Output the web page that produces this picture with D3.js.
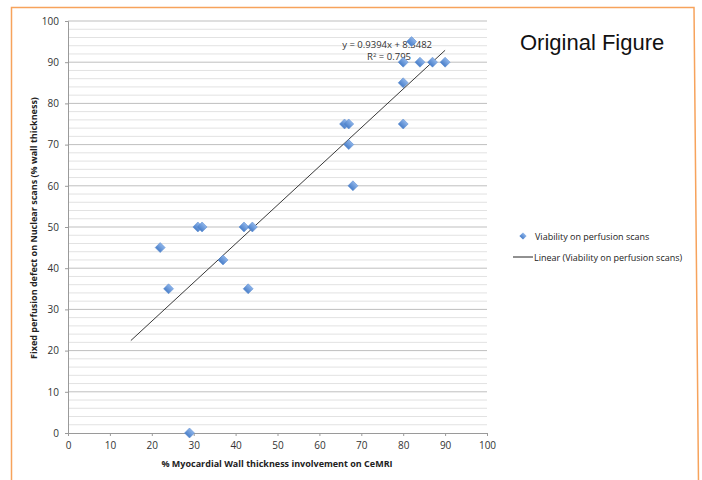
<!DOCTYPE html>
<html>
<head>
<meta charset="utf-8">
<script src="https://cdn.jsdelivr.net/npm/d3@7"></script>
<style>
  body { margin: 0; background: #fff; }
  text { font-family: "Open Sans", "Liberation Sans", sans-serif; }
</style>
</head>
<body>
<div id="chart"></div>
<script>
// values
var xVals = [22, 24, 29, 31, 32, 37, 42, 44, 43, 66, 67, 67, 68, 80, 80, 80, 82, 84, 87, 90];
var yVals = [45, 35, 0, 50, 50, 42, 50, 50, 35, 75, 75, 70, 60, 75, 85, 90, 95, 90, 90, 90];
var xTicks = [0, 10, 20, 30, 40, 50, 60, 70, 80, 90, 100];
var yTicks = [0, 10, 20, 30, 40, 50, 60, 70, 80, 90, 100];
var slope = 0.9394, intercept = 8.3482;
var trendRange = [15, 90];

var points = xVals.map(function(d, i) { return { x: d, y: yVals[i] }; });

var svg = d3.select('#chart')
  .append('svg')
    .attr('width', 702)
    .attr('height', 480);

// orange frame
svg.append('path')
  .attr('d', 'M11.5,482 L11.5,7.5 L694,7.5 L698.5,482')
  .attr('fill', 'none')
  .attr('stroke', '#f7a35c')
  .attr('stroke-width', 1.5);

var x = d3.scaleLinear().domain([0, 100]).range([68, 487]);
var y = d3.scaleLinear().domain([0, 100]).range([433, 21]);

var defs = svg.append('defs');
var grad = defs.append('linearGradient')
  .attr('id', 'mk').attr('x1', 0).attr('y1', 0).attr('x2', 0).attr('y2', 1);
grad.append('stop').attr('offset', '0%').attr('stop-color', '#8db4ea');
grad.append('stop').attr('offset', '100%').attr('stop-color', '#4a7fc9');

// minor gridlines every 2
svg.append('g')
  .selectAll('line')
  .data(d3.range(2, 100, 2).filter(function(d) { return d % 10 != 0; }))
  .enter().append('line')
    .attr('x1', x(0)).attr('x2', x(100))
    .attr('y1', function(d) { return y(d); })
    .attr('y2', function(d) { return y(d); })
    .attr('stroke', '#e2e2e2');

// major gridlines
svg.append('g')
  .selectAll('line')
  .data(yTicks.slice(1))
  .enter().append('line')
    .attr('x1', x(0)).attr('x2', x(100))
    .attr('y1', function(d) { return y(d); })
    .attr('y2', function(d) { return y(d); })
    .attr('stroke', '#bfbfbf');

var xAxis = svg.append('g')
  .attr('transform', 'translate(0,' + y(0) + ')')
  .call(d3.axisBottom(x).tickValues(xTicks).tickSize(3).tickPadding(6));
var yAxis = svg.append('g')
  .attr('transform', 'translate(' + x(0) + ',0)')
  .call(d3.axisLeft(y).tickValues(yTicks).tickSize(3).tickPadding(6));

[xAxis, yAxis].forEach(function(a) {
  a.select('.domain').attr('stroke', '#9a9a9a');
  a.selectAll('.tick line').attr('stroke', '#9a9a9a');
  a.selectAll('.tick text')
    .attr('fill', '#333')
    .style('font-size', '10px')
    .style('font-family', '"Open Sans", sans-serif');
});

// axis titles
svg.append('text')
  .attr('x', 277).attr('y', 467)
  .attr('text-anchor', 'middle')
  .style('font-size', '9px').style('font-weight', 'bold')
  .attr('fill', '#222')
  .text('% Myocardial Wall thickness involvement on CeMRI');

svg.append('text')
  .attr('transform', 'translate(37,228) rotate(-90)')
  .attr('text-anchor', 'middle')
  .style('font-size', '9px').style('font-weight', 'bold')
  .attr('fill', '#222')
  .text('Fixed perfusion defect on Nuclear scans (% wall thickness)');

// trend equation (under the markers)
svg.append('text')
  .attr('x', 432).attr('y', 48)
  .attr('text-anchor', 'end')
  .style('font-size', '9.5px')
  .attr('fill', '#333')
  .text('y = ' + slope + 'x + ' + intercept);
var r2 = svg.append('text')
  .attr('x', 411).attr('y', 60)
  .attr('text-anchor', 'end')
  .style('font-size', '9.5px')
  .attr('fill', '#333');
r2.append('tspan').text('R');
r2.append('tspan').attr('dy', -3).style('font-size', '6px').text('2');
r2.append('tspan').attr('dy', 3).text(' = 0.795');

// trend line
var line = d3.line()
  .x(function(d) { return x(d); })
  .y(function(d) { return y(slope * d + intercept); });
svg.append('path')
  .datum(trendRange)
  .attr('d', line)
  .attr('fill', 'none')
  .attr('stroke', '#222')
  .attr('stroke-width', 0.9);

// markers
var diamond = d3.symbol().type(d3.symbolSquare).size(50);
svg.append('g')
  .selectAll('path')
  .data(points)
  .enter().append('path')
    .attr('d', diamond)
    .attr('transform', function(d) {
      return 'translate(' + x(d.x) + ',' + y(d.y) + ') rotate(45)';
    })
    .attr('fill', 'url(#mk)')
    .attr('stroke', '#5a8ad0')
    .attr('stroke-width', 0.5);

// title
svg.append('text')
  .attr('x', 520).attr('y', 50)
  .style('font-family', '"Liberation Sans", Arial, sans-serif')
  .style('font-size', '22px')
  .attr('fill', '#111')
  .text('Original Figure');

// legend
svg.append('path')
  .attr('d', d3.symbol().type(d3.symbolSquare).size(26))
  .attr('transform', 'translate(523,236) rotate(45)')
  .attr('fill', 'url(#mk)');
svg.append('text')
  .attr('x', 535).attr('y', 239.5)
  .style('font-size', '9px')
  .attr('fill', '#222')
  .text('Viability on perfusion scans');
svg.append('line')
  .attr('x1', 513).attr('x2', 533)
  .attr('y1', 257).attr('y2', 257)
  .attr('stroke', '#222');
svg.append('text')
  .attr('x', 534).attr('y', 260.5)
  .style('font-size', '9px')
  .attr('fill', '#222')
  .text('Linear (Viability on perfusion scans)');
</script>
</body>
</html>
